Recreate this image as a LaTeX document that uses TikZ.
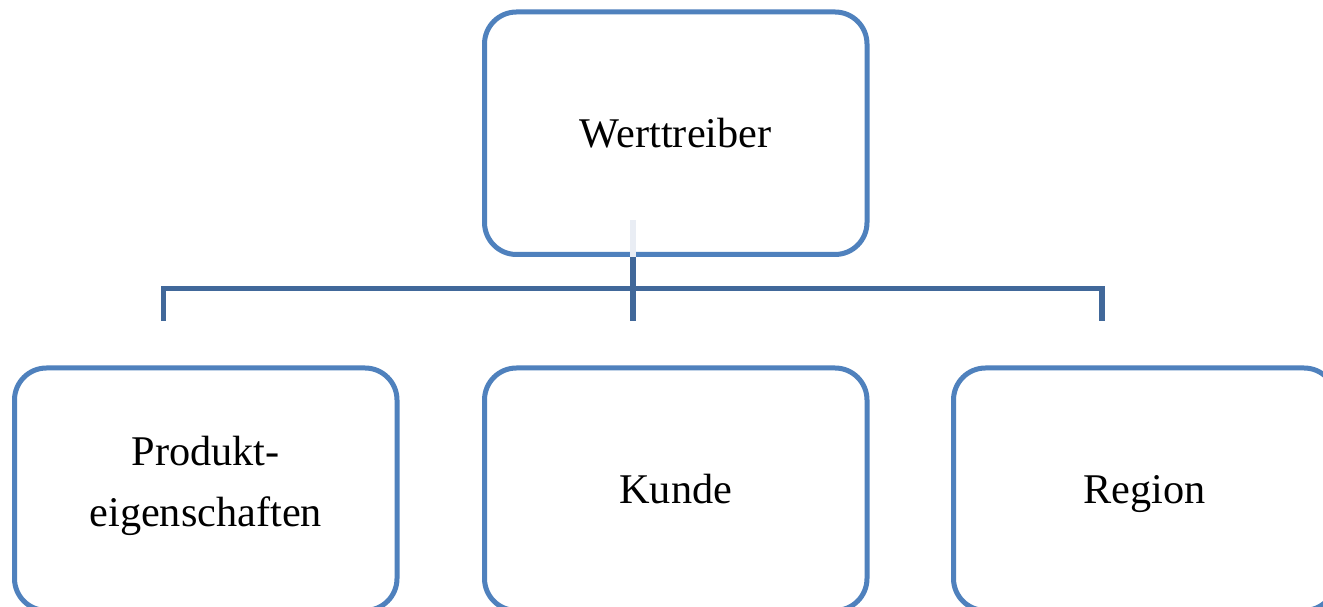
\documentclass[tikz,border=0pt]{standalone}
\usepackage{fontspec}
\usetikzlibrary{calc}
\setmainfont{Liberation Serif}
\definecolor{boxblue}{HTML}{4F81BD}
\definecolor{linkblue}{HTML}{41689A}
\definecolor{faint}{HTML}{E9EDF4}
\newcommand\cardstrut{\vrule height 44pt depth 16pt width 0pt}
\tikzset{
  card/.style={draw=boxblue, line width=5pt, rounded corners=32pt, fill=white,
    minimum width=382.5pt, minimum height=242.5pt, inner sep=0pt, align=center,
    font=\fontsize{42.3}{61}\selectfont, execute at begin node=\cardstrut},
  link/.style={draw=linkblue, line width=5.5pt},
  ghost/.style={draw=faint, line width=5.5pt}
}
\begin{document}
\begin{tikzpicture}[x=1pt,y=1pt]
\useasboundingbox (0,0) rectangle (1323,607);
\clip (0,0) rectangle (1323,607);
\fill[white] (0,0) rectangle (1323,607);
\node[card] (top) at (675.75,473.75) {Werttreiber};
\node[card] (prod) at (205.75,117.75) {Produkt-\\\cardstrut eigenschaften};
\node[card] (kunde) at (675.75,117.75) {Kunde};
\node[card] (region) at (1144.75,117.75) {Region};
\coordinate (g) at ($(top.south)+(-42.75,36.5)$);
\coordinate (s) at ($(top.south)+(-42.75,0)$);
\coordinate (hl) at ($(prod.north)+(-42.25,77)$);
\coordinate (hr) at ($(region.north)+(-42.75,77)$);
\coordinate (dl) at ($(prod.north)+(-42.25,44.5)$);
\coordinate (dm) at ($(kunde.north)+(-42.75,44.5)$);
\coordinate (dr) at ($(region.north)+(-42.75,44.5)$);
\draw[ghost] (g) -- (s);
\draw[link] (dl) -- (hl) -- (hr) -- (dr);
\draw[link] (s) -- (dm);
\end{tikzpicture}
\end{document}
